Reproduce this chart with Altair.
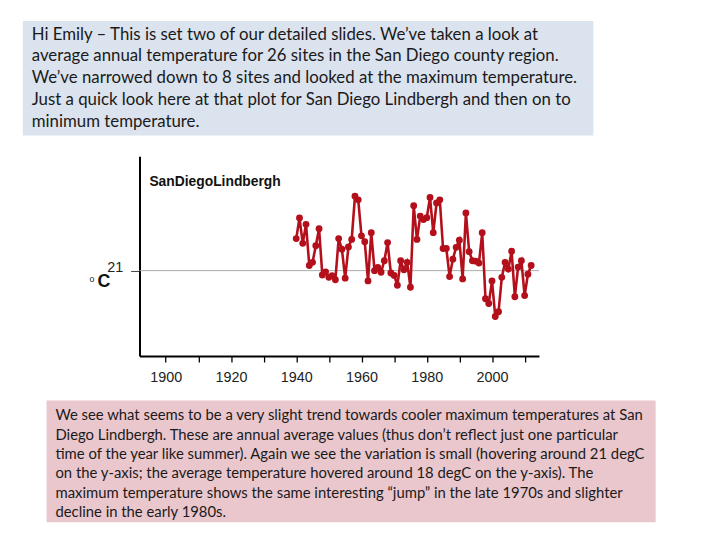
import altair as alt
import pandas as pd

# ---- data -------------------------------------------------------------
years = list(range(1940, 2013))
tmax = [21.81, 22.33, 21.69, 22.17, 21.13, 21.21, 21.63, 22.06, 20.89, 20.97,
        20.83, 20.87, 20.77, 21.81, 21.54, 20.81, 21.60, 21.79, 22.88, 22.79,
        21.88, 21.73, 20.74, 21.96, 21.00, 21.08, 20.96, 21.25, 21.71, 20.94,
        20.88, 20.63, 21.25, 21.02, 21.21, 20.58, 22.64, 21.79, 22.38, 22.29,
        22.34, 22.85, 21.96, 22.71, 22.79, 21.56, 21.56, 20.85, 21.29, 21.59,
        21.77, 20.79, 22.46, 21.48, 21.25, 21.24, 21.19, 21.96, 20.29, 20.17,
        20.74, 19.84, 19.96, 20.83, 21.21, 21.04, 21.49, 20.34, 21.09, 21.25,
        20.37, 20.91, 21.13]
x_ticks = [1900, 1910, 1920, 1930, 1940, 1950, 1960, 1970, 1980, 1990, 2000, 2010]
y_ticks = [21]
reference_value = [21]
station = "SanDiegoLindbergh"
top_lines = [
    "Hi Emily \u2013 This is set two of our detailed slides. We\u2019ve taken a look at",
    "average annual temperature for 26 sites in the San Diego county region.",
    "We\u2019ve narrowed down to 8 sites and looked at the maximum temperature.",
    "Just a quick look here at that plot for San Diego Lindbergh and then on to",
    "minimum temperature.",
]
bottom_lines = [
    "We see what seems to be a very slight trend towards cooler maximum temperatures at San",
    "Diego Lindbergh. These are annual average values (thus don\u2019t reflect just one particular",
    "time of the year like summer). Again we see the variation is small (hovering around 21 degC",
    "on the y-axis; the average temperature hovered around 18 degC on the y-axis). The",
    "maximum temperature shows the same interesting \u201cjump\u201d in the late 1970s and slighter",
    "decline in the early 1980s.",
]

df = pd.DataFrame({"year": years, "tmax": tmax})
one = pd.DataFrame({"k": [0]})

RED = "#b3101c"
W, H = 404, 202

xenc = alt.X(
    "year:Q",
    scale=alt.Scale(domain=[1891.97, 2014.39], nice=False, zero=False),
    axis=alt.Axis(
        values=x_ticks, format="d", title=None, grid=False,
        labelExpr="datum.value % 20 == 0 ? datum.label : ''",
        labelOverlap=False, labelFlush=False,
        domainColor="black", domainWidth=2,
        tickColor="black", tickSize=6, tickWidth=1.3,
        labelFont="Liberation Sans", labelFontSize=14.5, labelColor="#222",
        labelPadding=9,
    ),
)
yenc = alt.Y(
    "tmax:Q",
    scale=alt.Scale(domain=[18.84, 23.89], nice=False, zero=False),
    axis=alt.Axis(
        values=y_ticks, title=None, grid=False,
        domainColor="black", domainWidth=2,
        tickColor="#444", tickSize=9, tickWidth=1,
        labelFont="Liberation Sans", labelFontSize=14.5, labelColor="#222",
        labelPadding=8, labelOffset=-3,
    ),
)

top_box = alt.Chart(one).mark_rect(color="#dbe3ee").encode(
    x=alt.value(-118), x2=alt.value(459), y=alt.value(-137), y2=alt.value(-21))
top_text = alt.Chart(one).mark_text(
    text=top_lines, align="left", baseline="alphabetic", font="Lato",
    fontSize=17, lineHeight=22, color="#1a1a1a").encode(
    x=alt.value(-109), y=alt.value(-118))

bot_box = alt.Chart(one).mark_rect(color="#eac7cd").encode(
    x=alt.value(-94), x2=alt.value(522), y=alt.value(247), y2=alt.value(370))
bot_text = alt.Chart(one).mark_text(
    text=bottom_lines, align="left", baseline="alphabetic", font="Lato",
    fontSize=15, lineHeight=19.6, color="#1a1a1a").encode(
    x=alt.value(-85), y=alt.value(267))

ref = alt.Chart(pd.DataFrame({"tmax": reference_value})).mark_rule(
    color="#aaaaaa", strokeWidth=1).encode(y=alt.Y("tmax:Q"))

line = alt.Chart(df).mark_line(
    color=RED, strokeWidth=2.6,
    point=alt.OverlayMarkDef(color=RED, size=48, filled=True, opacity=1),
).encode(x=xenc, y=yenc)

title = alt.Chart(one).mark_text(
    text=station, align="left", baseline="middle", font="Liberation Sans",
    fontSize=14, fontWeight="bold", color="#111").encode(
    x=alt.value(10), y=alt.value(26))

deg = alt.Chart(one).mark_text(
    text="o", align="center", baseline="middle", font="Liberation Sans",
    fontSize=9, color="#222").encode(x=alt.value(-48), y=alt.value(124))
cee = alt.Chart(one).mark_text(
    text="C", align="center", baseline="middle", font="Liberation Sans",
    fontSize=18, fontWeight="bold", color="#111").encode(
    x=alt.value(-36), y=alt.value(127))

chart = alt.layer(
    top_box, top_text, bot_box, bot_text, ref, line, title, deg, cee
).properties(
    width=W, height=H,
    autosize=alt.AutoSizeParams(type="none"),
    padding={"left": 133, "top": 147, "right": 175, "bottom": 183},
    background="white",
).configure_view(stroke=None)

chart.save("out.html", embed_options={"renderer": "svg", "actions": False})
